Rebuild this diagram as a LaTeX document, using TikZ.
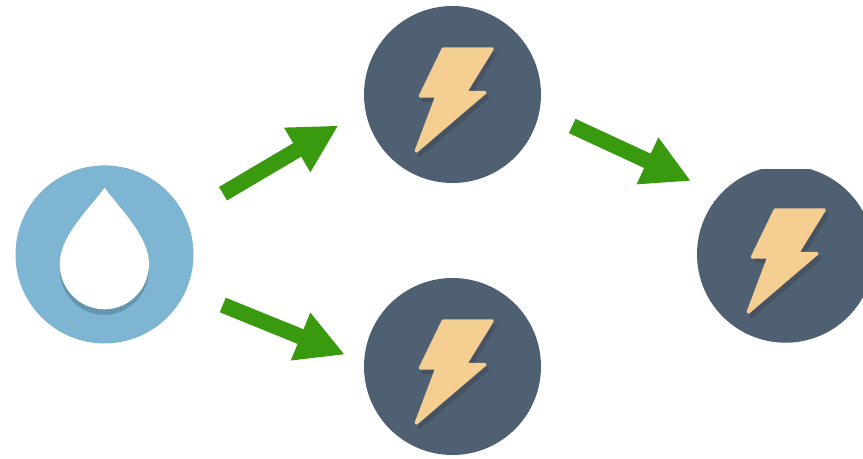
\documentclass[tikz,border=0pt]{standalone}
\usepackage{xcolor}
\usepackage{tikz}
\usetikzlibrary{arrows.meta}
\definecolor{slatecol}{HTML}{4F6073}
\definecolor{boltcol}{HTML}{F5CE92}
\definecolor{boltshade}{HTML}{465262}
\definecolor{watercol}{HTML}{7DB5D3}
\definecolor{dropshade}{HTML}{6396AE}
\definecolor{flowcol}{HTML}{3A9A0F}
\tikzset{
  x=0.75pt, y=-0.75pt,
  disc/.style={circle, inner sep=0pt, minimum size=132.75pt, fill=#1},
  flow/.style={draw=flowcol, line width=11.8pt, -{Triangle[length=36pt,width=36pt,fill=flowcol]}},
  pics/bolt/.style={code={
    \filldraw[boltshade, line width=2.6pt, line join=round, shift={(3,4.5)}] (-9.2,-45.5) -- (39.5,-45.5) -- (12.7,-2) -- (32.3,-2) -- (-36.2,56.5) -- (-15.5,1.5) -- (-32,1.5) -- cycle;
    \filldraw[boltcol, line width=2.6pt, line join=round] (-9.2,-45.5) -- (39.5,-45.5) -- (12.7,-2) -- (32.3,-2) -- (-36.2,56.5) -- (-15.5,1.5) -- (-32,1.5) -- cycle;
  }}
}
\begin{document}
\begin{tikzpicture}
\useasboundingbox (0,0) rectangle (863,458);
\node[disc=watercol, minimum size=133.5pt] (water) at (104.5,254.4) {};
\fill[dropshade] (104.7,193.2) .. controls (92,212) and (59.7,240) .. (59.7,269) arc[start angle=180, end angle=0, x radius=44.65, y radius=45.8] .. controls (149,240) and (117,212) .. cycle;
\fill[white] (104.7,187.7) .. controls (92,206) and (59.7,235) .. (59.7,264) arc[start angle=180, end angle=0, x radius=44.65, y radius=45.3] .. controls (149,235) and (117,206) .. cycle;
\node[disc=slatecol] (boltA) at (452.5,94.5) {};
\pic at (boltA) {bolt};
\node[disc=slatecol] (boltB) at (452.5,366.5) {};
\pic at (boltB) {bolt};
\begin{scope}
\clip (690,169) rectangle (863,345);
\node[disc=slatecol] (boltC) at (785.5,254.2) {};
\pic at (784.5,255.5) {bolt};
\end{scope}
\coordinate (tailA) at (223,193.7);
\coordinate (tipA) at (338.5,125.5);
\coordinate (tailB) at (222.8,305);
\coordinate (tipB) at (345,354.6);
\coordinate (tailC) at (572.2,126);
\coordinate (tipC) at (691,181);
\draw[flow] (tailA) -- (tipA);
\draw[flow] (tailB) -- (tipB);
\draw[flow] (tailC) -- (tipC);
\end{tikzpicture}
\end{document}
